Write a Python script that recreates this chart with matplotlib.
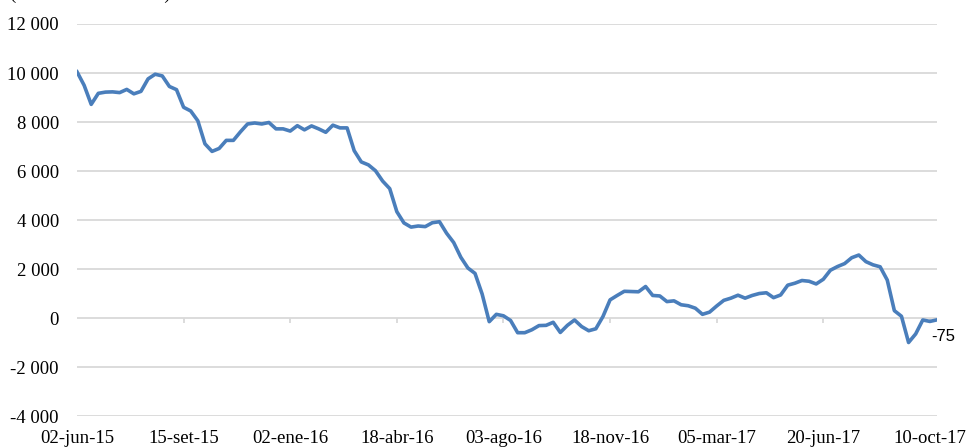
import numpy as np
import matplotlib
matplotlib.use("Agg")
import matplotlib.pyplot as plt
from matplotlib.ticker import FuncFormatter

# saldo cada 5 dias habiles (millones de dolares)
paso = 5
saldo = [
    10050, 9500, 8720, 9170, 9220, 9230, 9200, 9330, 9150, 9250,
    9760, 9950, 9880, 9450, 9320, 8600, 8450, 8050, 7110, 6800,
    6920, 7250, 7250, 7600, 7920, 7960, 7920, 7980, 7720, 7720,
    7630, 7850, 7680, 7840, 7720, 7580, 7870, 7760, 7760, 6830,
    6370, 6250, 6010, 5590, 5280, 4340, 3880, 3710, 3755, 3730,
    3890, 3930, 3460, 3080, 2480, 2040, 1820, 980, -150, 150,
    90, -100, -600, -600, -480, -310, -300, -175, -590, -300,
    -80, -350, -520, -440, 60, 740, 920, 1090, 1080, 1070,
    1285, 920, 900, 670, 700, 540, 500, 400, 150, 240,
    490, 720, 810, 930, 810, 920, 1000, 1030, 830, 940,
    1340, 1420, 1530, 1500, 1390, 1580, 1950, 2100, 2220, 2460,
    2570, 2300, 2170, 2090, 1550, 300, 70, -1000, -650, -80,
    -140, -75,
]
etiquetas = ["02-jun-15", "15-set-15", "02-ene-16", "18-abr-16", "03-ago-16",
             "18-nov-16", "05-mar-17", "20-jun-17", "10-oct-17"]
cada = 75

dias = np.arange(len(saldo)) * paso
pos_tick = np.arange(len(etiquetas)) * cada

fig = plt.figure(figsize=(9.7, 4.48), dpi=100)
ax = fig.add_axes([77 / 970, 32 / 448, 860 / 970, 392 / 448])

serif = ["Liberation Serif", "DejaVu Serif"]

ax.plot(dias, saldo, color="#4a7ebb", lw=2.6, solid_joinstyle="round", zorder=3)
ax.set_xlim(0, dias[-1])
ax.set_ylim(-4000, 12000)
ax.set_yticks(np.arange(-4000, 12001, 2000))
ax.yaxis.set_major_formatter(FuncFormatter(lambda v, p: f"{v:,.0f}".replace(",", " ")))
ax.grid(axis="y", color="#d9d9d9", lw=1.3)
ax.set_axisbelow(True)
for s in ax.spines.values():
    s.set_visible(False)

ax.set_xticks(pos_tick)
ax.set_xticklabels(etiquetas)
ax.tick_params(axis="x", length=0, pad=10)
ax.tick_params(axis="y", length=0, pad=13)
for lab in ax.get_xticklabels() + ax.get_yticklabels():
    lab.set_family(serif)
    lab.set_fontsize(13.5)

# marcas del eje de categorias sobre la linea de cero
ax.vlines(pos_tick[1:], -200, 0, color="#d9d9d9", lw=1.3, zorder=2)

ax.annotate(f"{saldo[-1]}", (dias[-1], saldo[-1]), xytext=(-4, -12),
            textcoords="offset points", ha="left", va="center",
            fontsize=12, family=["Liberation Sans", "DejaVu Sans"],
            annotation_clip=False)

fig.text(10 / 970, 1 + 1 / 448, "(Millones de dólares)", family=serif,
         fontsize=13.5, va="baseline", ha="left")

fig.savefig("out.png", dpi=100)
